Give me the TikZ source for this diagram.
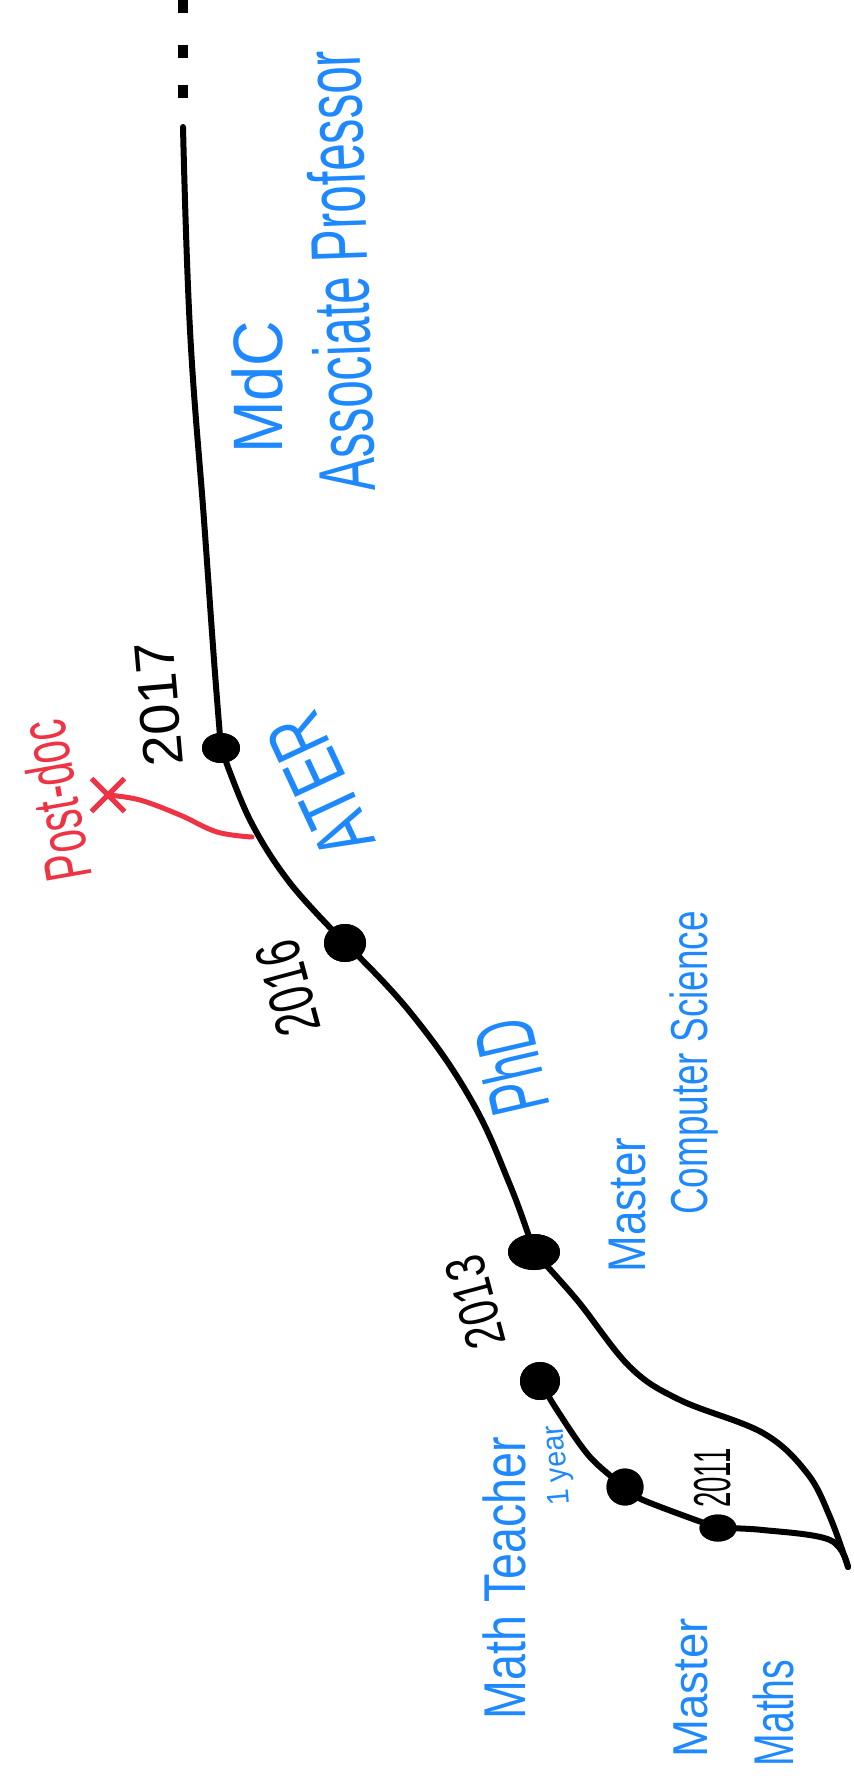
\documentclass[tikz,border=0pt]{standalone}
\usepackage{fontspec}
\usepackage{graphicx}
\setmainfont{Liberation Sans}
\usetikzlibrary{shapes.geometric,shapes.misc}

\definecolor{penblue}{RGB}{30,136,255}
\definecolor{penred}{RGB}{238,52,68}

% hand lettering: squeeze the text along its own line
\newcommand{\hand}[2]{\scalebox{#1}[1]{#2}}

\begin{document}
\begin{tikzpicture}[
        x=0.5pt, y=-0.5pt,
        pen/.style = {inner sep=0pt, anchor=base, text=penblue},
        year/.style = {pen, text=black},
        fs/.style = {font=\fontsize{#1}{#1}\selectfont},
        line/.style = {line width=3pt, line cap=round, line join=round},
        dot/.style = {ellipse, fill=black, inner sep=0pt}
    ]
    \useasboundingbox (0,0) rectangle (853,1779);

    % ================= LA LIGNE DE VIE =================
    \coordinate (top) at (183,127);
    \coordinate (tip) at (848,1567);

    \node[dot, minimum width=19pt, minimum height=15pt] (d2017) at (221,748) {};
    \node[dot, minimum width=21pt, minimum height=19pt] (d2016) at (345,943) {};
    \node[dot, minimum width=26pt, minimum height=18pt] (d2013) at (534,1252) {};
    \node[dot, minimum width=20pt, minimum height=19pt] (dteach) at (540,1381) {};
    \node[dot, minimum width=18.5pt, minimum height=18.5pt] (dmid) at (625,1487) {};
    \node[dot, minimum width=18.5pt, minimum height=13.5pt] (d2011) at (718,1528) {};

    % suite en pointillés
    \foreach \y in {91,51,6}
        \draw[line width=5pt] (183,\y-6.5) -- (183,\y+6.5);

    \draw[line] plot[smooth, tension=0.7] coordinates {(top) (190,330) (204,520) (214,660) (d2017.center)};
    \draw[line] plot[smooth, tension=0.6] coordinates {(d2017.center) (250,820) (290,883) (d2016.center)};
    \draw[line] plot[smooth, tension=0.7] coordinates {(d2016.center) (410,1012) (470,1098) (510,1185) (d2013.center)};
    \draw[line] plot[smooth, tension=0.6] coordinates {(d2013.center) (577,1300) (630,1367) (680,1400) (763,1433) (807,1473) (830,1517) (tip)};
    \draw[line] plot[smooth, tension=0.6] coordinates {(tip) (830,1540) (763,1530) (d2011.center)};
    \draw[line] plot[smooth, tension=0.6] coordinates {(d2011.center) (643,1500) (dmid.center)};
    \draw[line] plot[smooth, tension=0.6] coordinates {(dmid.center) (590,1457) (557,1410) (dteach.center)};

    % points par-dessus la ligne
    \foreach \w/\h/\x/\y in {19/15/221/748, 21/19/345/943, 26/18/534/1252, 20/19/540/1381, 18.5/18.5/625/1487, 18.5/13.5/718/1528}
        \node[dot, minimum width=\w pt, minimum height=\h pt] at (\x,\y) {};

    % ================= ANNÉES =================
    \node[year, fs=28pt, rotate=95] (y2017) at (178,702) {\hand{1.0}{2017}};
    \node[year, fs=31.5pt, rotate=105] (y2016) at (309,982) {\hand{0.68}{2016}};
    \node[year, fs=28pt, rotate=105] (y2013) at (494,1297) {\hand{0.75}{2013}};
    \node[year, fs=26pt, rotate=90] (y2011) at (730,1478) {\hand{0.53}{2011}};

    % ================= POSTES =================
    \node[pen, fs=40pt, rotate=92] (asso) at (368,270) {\hand{0.62}{Associate Professor}};
    \node[pen, fs=35pt, rotate=90] (mdc) at (282,387) {\hand{0.9}{MdC}};
    \node[pen, fs=40pt, rotate=115] (ater) at (345,774) {\hand{0.72}{ATER}};
    \node[pen, fs=42pt, rotate=103] (phd) at (540,1060) {\hand{0.58}{PhD}};
    \node[pen, fs=26.5pt, rotate=90] (mcs) at (645,1205) {\hand{0.83}{Master}};
    \node[pen, fs=26pt, rotate=90] (cs) at (707,1063) {\hand{0.71}{Computer Science}};
    \node[pen, fs=29.5pt, rotate=90] (teach) at (525,1578) {\hand{0.79}{Math Teacher}};
    \node[pen, fs=15.5pt, rotate=95] (oneyear) at (566,1465) {\hand{0.93}{1 year}};
    \node[pen, fs=24.5pt, rotate=90] (mmaths) at (707,1688) {\hand{0.93}{Master}};
    \node[pen, fs=28pt, rotate=90] (maths) at (793,1713) {\hand{0.7}{Maths}};

    % ================= POST-DOC (abandonné) =================
    \coordinate (pstart) at (252,837);
    \node[cross out, draw=penred, line width=2.5pt, minimum size=14pt, inner sep=0pt] (pdx) at (108,795) {};
    \draw[line, line width=2.5pt, penred] plot[smooth, tension=0.6] coordinates {(pstart) (217,832) (180,815) (140,800) (pdx.center)};
    \node[pen, text=penred, fs=33pt, rotate=100] (postdoc) at (78,797) {\hand{0.62}{Post-doc}};

\end{tikzpicture}
\end{document}
